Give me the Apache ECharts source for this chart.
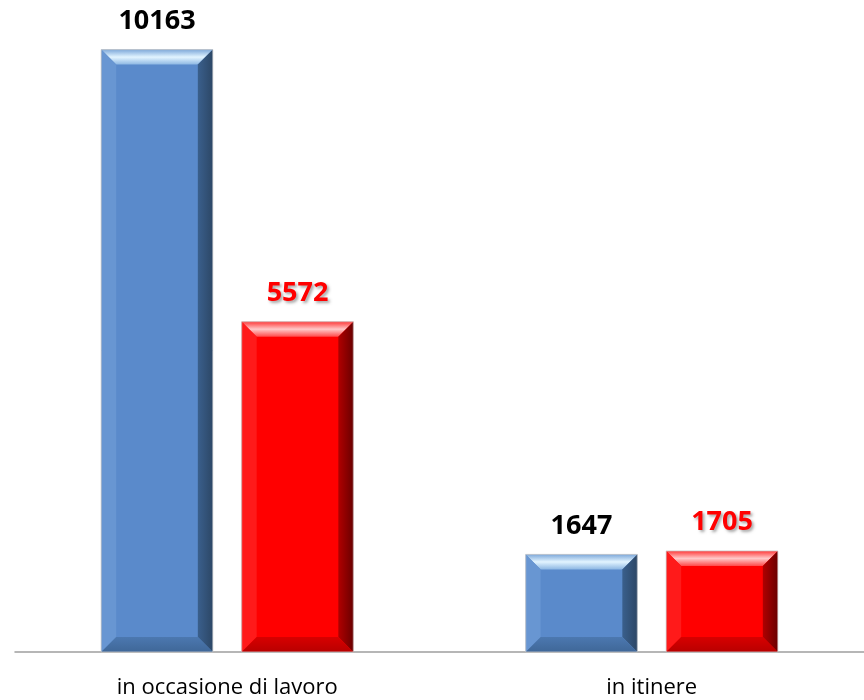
<!DOCTYPE html>
<html>
<head>
<meta charset="utf-8">
<script src="https://cdn.jsdelivr.net/npm/echarts@6/dist/echarts.min.js"></script>
<style>
  html, body { margin: 0; padding: 0; background: #fff; }
  #chart { width: 864px; height: 700px; }
</style>
</head>
<body>
<div id="chart"></div>
<script>
// dati
var categories = ['in occasione di lavoro', 'in itinere'];
var valBlu = [10163, 1647];
var valRosso = [5572, 1705];

// colori della smussatura: base, alto, sinistra, destra, basso
var palette = [
  { base: '#5A8ACB', top: ['#7DA8DA', '#E2F4FF', '#8DB7E3'], left: '#6896D2', right: ['#3A5F8C', '#2C4766'], bottom: ['#4C78B0', '#3F6798'], label: '#000000' },
  { base: '#FF0000', top: ['#FF3A3A', '#FFC8C8', '#FF4A4A'], left: '#FF1A1A', right: ['#B00000', '#6A0000'], bottom: ['#D80000', '#B80000'], label: '#FF0000' }
];

function grad(x0, y0, x1, y1, stops) {
  var cs = stops.map(function (c, i) { return { offset: i / (stops.length - 1), color: c }; });
  return new echarts.graphic.LinearGradient(x0, y0, x1, y1, cs);
}

function renderBar(params, api) {
  var cat = api.value(0), val = api.value(1);
  var base = api.coord([cat, 0]);
  var top = api.coord([cat, val]);
  var band = api.size([1, 0])[0];
  var w = band * 0.263;
  var gap = band * 0.068;
  var off = (w + gap) / 2 * (params.seriesIndex === 0 ? -1 : 1);
  var x0 = base[0] + off - w / 2;
  var y0 = top[1];
  var h = base[1] - top[1];
  var x1 = x0 + w, y1 = y0 + h;
  var b = Math.min(15, h / 2.5);
  var p = palette[params.seriesIndex];
  return {
    type: 'group',
    children: [
      { type: 'rect', shape: { x: x0, y: y0, width: w, height: h }, style: { fill: p.base } },
      { type: 'polygon', shape: { points: [[x0, y0], [x1, y0], [x1 - b, y0 + b], [x0 + b, y0 + b]] },
        style: { fill: grad(0, 0, 0, 1, p.top) } },
      { type: 'polygon', shape: { points: [[x0, y0], [x0 + b, y0 + b], [x0 + b, y1 - b], [x0, y1]] },
        style: { fill: p.left } },
      { type: 'polygon', shape: { points: [[x1, y0], [x1, y1], [x1 - b, y1 - b], [x1 - b, y0 + b]] },
        style: { fill: grad(0, 0, 1, 0, p.right) } },
      { type: 'polygon', shape: { points: [[x0, y1], [x0 + b, y1 - b], [x1 - b, y1 - b], [x1, y1]] },
        style: { fill: grad(0, 0, 0, 1, p.bottom) } },
      { type: 'rect', shape: { x: x0, y: y0, width: w, height: h },
        style: { fill: 'none', stroke: 'rgba(200,200,200,0.8)', lineWidth: 1 } },
      { type: 'text', x: x0 + w / 2, y: y0 - 15,
        style: {
          text: String(val), align: 'center', verticalAlign: 'bottom',
          fontFamily: '"Open Sans", sans-serif', fontWeight: 'bold', fontSize: 27,
          fill: p.label,
          textShadowColor: params.seriesIndex === 1 ? 'rgba(0,0,0,0.35)' : 'transparent',
          textShadowBlur: params.seriesIndex === 1 ? 3 : 0,
          textShadowOffsetX: 2, textShadowOffsetY: 2
        } }
    ]
  };
}

var chart = echarts.init(document.getElementById('chart'));
chart.setOption({
  animation: false,
  grid: { left: 15, right: 0, top: 0, bottom: 48 },
  xAxis: {
    type: 'category',
    data: categories,
    axisTick: { show: false },
    axisLine: { lineStyle: { color: '#9E9E9E', width: 1.5 } },
    axisLabel: { color: '#000', fontSize: 22, fontFamily: '"Open Sans", sans-serif', margin: 25 }
  },
  yAxis: { type: 'value', min: 0, max: 11000, show: false, splitLine: { show: false } },
  series: [
    { type: 'custom', renderItem: renderBar, encode: { x: 0, y: 1 },
      data: categories.map(function (c, i) { return [i, valBlu[i]]; }) },
    { type: 'custom', renderItem: renderBar, encode: { x: 0, y: 1 },
      data: categories.map(function (c, i) { return [i, valRosso[i]]; }) }
  ]
});
</script>
</body>
</html>
